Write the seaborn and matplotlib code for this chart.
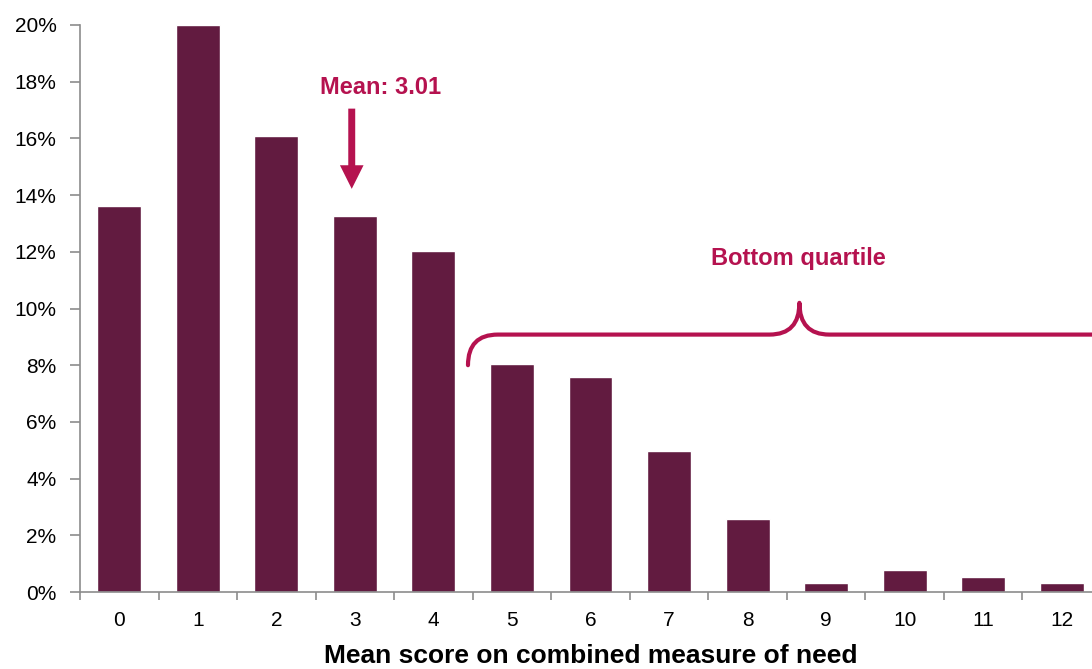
import matplotlib
matplotlib.use("Agg")
import matplotlib.pyplot as plt
from matplotlib.path import Path
from matplotlib.patches import PathPatch
from matplotlib.ticker import FuncFormatter, FixedLocator
import seaborn as sns
import pandas as pd

scores = ["0", "1", "2", "3", "4", "5", "6", "7", "8", "9", "10", "11", "12"]
shares = [13.6, 20.0, 16.1, 13.25, 12.03, 8.05, 7.6, 4.97, 2.57, 0.33, 0.77, 0.54, 0.33]
mean_score = 3.01

bar_color = "#621B40"
accent = "#B5124F"
axis_grey = "#8C8C8C"

sns.set_theme(style="white")
plt.rcParams["font.family"] = ["Liberation Sans", "DejaVu Sans"]

df = pd.DataFrame({"score": scores, "share": shares})

fig = plt.figure(figsize=(10.92, 6.69), dpi=100)
ax = fig.add_axes([80 / 1092, 77 / 669, 1021 / 1092, 567 / 669])
sns.barplot(data=df, x="score", y="share", color=bar_color, width=0.56,
            saturation=1, ax=ax)

ax.set_xlim(-0.5, 12.5)
ax.set_ylim(0, 20)
ax.set_yticks(range(0, 21, 2))
ax.yaxis.set_major_formatter(FuncFormatter(lambda v, p: f"{v:.0f}%"))
ax.xaxis.set_minor_locator(FixedLocator([i - 0.5 for i in range(14)]))
ax.tick_params(axis="x", which="major", bottom=True, length=0, labelsize=15,
               pad=14, labelcolor="black")
ax.tick_params(axis="x", which="minor", bottom=True, length=6, width=1.2,
               color=axis_grey, direction="out")
ax.tick_params(axis="y", which="major", left=True, length=7, width=1.2,
               color=axis_grey, labelsize=15, labelcolor="black", direction="out", pad=10)
ax.set_ylabel("")
ax.set_xlabel("Mean score on combined measure of need", fontsize=19,
              fontweight="bold", color="black", labelpad=10)

for side in ["top", "right"]:
    ax.spines[side].set_visible(False)
for side in ["left", "bottom"]:
    ax.spines[side].set_color(axis_grey)
    ax.spines[side].set_linewidth(1.2)

# Mean marker
ax.annotate("", xy=(2.96, 14.22), xytext=(2.96, 17.05),
            arrowprops=dict(width=5, headwidth=17, headlength=17,
                            facecolor=accent, edgecolor=accent, lw=0,
                            shrink=0))
ax.text(3.33, 17.8, f"Mean: {mean_score:.2f}", color=accent, fontsize=17,
        fontweight="bold", ha="center", va="center")

# Brace over the bottom quartile
x0, xm, x1 = 4.44, 8.66, 12.88
yb, yh, yp = 8.0, 9.08, 10.2
r = 0.38
verts = [
    (x0, yb), (x0, yh), (x0 + r, yh),
    (xm - r, yh),
    (xm, yh), (xm, yp),
    (xm, yh), (xm + r, yh),
    (x1 - r, yh),
    (x1, yh), (x1, yb),
]
codes = [Path.MOVETO, Path.CURVE3, Path.CURVE3,
         Path.LINETO,
         Path.CURVE3, Path.CURVE3,
         Path.CURVE3, Path.CURVE3,
         Path.LINETO,
         Path.CURVE3, Path.CURVE3]
brace = PathPatch(Path(verts, codes), facecolor="none", edgecolor=accent, lw=3,
                  capstyle="round", joinstyle="round", clip_on=False)
ax.add_patch(brace)
ax.text(8.65, 11.76, "Bottom quartile", color=accent, fontsize=17,
        fontweight="bold", ha="center", va="center")

fig.savefig("out.png", dpi=100)
